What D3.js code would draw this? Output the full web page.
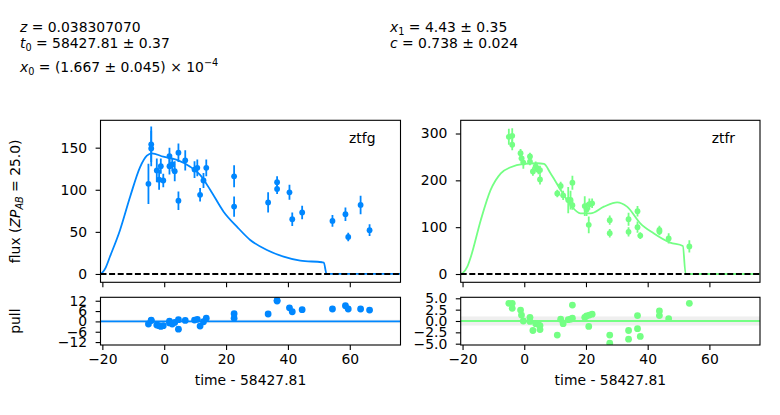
<!DOCTYPE html>
<html>
<head>
<meta charset="utf-8">
<script src="https://cdn.jsdelivr.net/npm/d3@7"></script>
<style>
  body { margin: 0; background: #fff; }
  text { font-family: "DejaVu Sans", sans-serif; }
</style>
</head>
<body>
<div id="chart"></div>
<script>
// ---- data ----
const tickTimes = [-20, 0, 20, 40, 60];

// ztfg
const gTime = [-5.1, -4.2, -4.2, -2.4, -1.65, -1.1, -0.3, 1.7, 1.7, 2.6, 3.4, 4.6, 4.6, 6.8, 9.8, 10.7, 11.6, 12.7, 13.6,
  22.6, 22.6, 33.6, 36.5, 36.5, 40.5, 41.4, 44.6, 54.4, 58.6, 59.5, 63.5, 66.4];
const gFlux = [107, 154, 149, 123, 112, 128, 111, 140, 128, 130, 122, 144, 87, 135, 124, 126, 94, 111, 126,
  116, 80, 85, 109, 101, 97, 65, 73, 63, 71, 44, 82, 52];
const gErr = [24, 21, 21, 14, 12, 9, 8, 10, 10, 8, 12, 11, 11, 12, 10, 10, 8, 9, 10,
  13, 12, 12, 7, 6, 9, 8, 8, 7, 8, 5, 11, 7];
const gPull = [-1.5, 0.8, 0.5, -2.1, -2.5, -2.9, -2.5, 0.2, -0.9, -1.5, -0.6, 1.0, -4.5, 0.6, 0.8, 1.2, -2.7, -0.2, 1.9,
  4.5, 1.9, 4.3, 11.8, 12.3, 7.9, 5.6, 6.8, 7.2, 9.1, 7.2, 7.2, 6.6];
const gModelTime = [-20.6, -20, -19, -17.5, -14.3, -11, -7.8, -5.6, -4, -0.3, 4.1, 8.4, 11.6, 14.9, 19.2, 23.5,
  27.8, 33.2, 38.6, 44, 51, 51.6, 52.5, 76.4];
const gModelFlux = [0, 1.5, 7, 21, 52, 92, 127, 140.5, 143.3, 139.3, 135.4, 127.4, 117.6, 99.8, 74, 56.2,
  40.4, 28.5, 20.6, 15.8, 13.9, 13.6, 0, 0];

// ztfr
const rTime = [-5.0, -3.9, -3.9, -1.2, -0.9, -0.3, 1.85, 1.85, 2.8, 3.7, 4.6, 5.1, 5.1, 10.7, 11.8, 12.6, 14.25, 15.0,
  15.6, 15.6, 19.6, 20.2, 20.9, 21.1, 22.0, 27.7, 27.7, 33.8, 33.8, 36.7, 36.7, 37.6, 43.8, 43.8, 46.8, 53.5];
const rFlux = [293, 295, 276, 258, 247, 238, 251, 240, 219, 230, 222, 222, 202, 172, 188, 168, 158, 158,
  195, 147, 145, 138, 105, 149, 151, 115, 87, 117, 90, 134, 100, 82, 94, 91, 76, 59];
const rErr = [17, 16, 12, 9, 9, 13, 8, 8, 9, 10, 9, 9, 11, 8, 9, 10, 28, 20,
  15, 10, 21, 14, 18, 12, 10, 10, 9, 14, 10, 11, 12, 7, 9, 8, 11, 13];
const rPull = [3.9, 3.9, 2.8, 2.4, 1.3, 0, 0.8, -0.1, -2.1, -0.6, -0.8, -1.0, -1.9, -3.1, 0.4, -0.6, 0.3, 0.4,
  3.5, 0.6, 0.8, 1.1, -1.2, 1.3, 1.5, -3.1, -4.9, -2.1, -4.0, 1.2, -1.7, -3.4, 2.2, 1.2, 0.5, 3.9];
const rModelTime = [-20.6, -20, -18.5, -17.3, -14.1, -10.9, -7.6, -4.4, -0.1, 4.2, 6.4, 8.5, 11.8, 15, 18.2, 21.5,
  25.8, 30.1, 33.3, 37.6, 41.9, 47.3, 51.4, 52.3, 76.4];
const rModelFlux = [0, 1.5, 15, 37, 115, 179.5, 215, 228, 235, 236.5, 235, 215, 179.5, 147.4, 129.6, 129.6,
  143.8, 153, 143.8, 108.3, 87, 67, 59.8, 0, 0];

const bands = [
  { name: "ztfg", color: "#0087ff", time: gTime, flux: gFlux, err: gErr, pull: gPull,
    mt: gModelTime, mf: gModelFlux, fluxDom: [-9.9, 182.5], fluxTicks: [0, 50, 100, 150],
    pullDom: [-13.7, 14.0], pullTicks: [-12, -6, 0, 6, 12], pullFmt: d3.format("d"), x0: 100.5, x1: 400.5 },
  { name: "ztfr", color: "#74ff84", time: rTime, flux: rFlux, err: rErr, pull: rPull,
    mt: rModelTime, mf: rModelFlux, fluxDom: [-17.7, 328.2], fluxTicks: [0, 100, 200, 300],
    pullDom: [-5.29, 5.22], pullTicks: [-5, -2.5, 0, 2.5, 5], pullFmt: d3.format(".1f"), x0: 460.7, x1: 760 }
];

const W = 780, H = 415;
const panelTop = { y0: 120.3, y1: 282.3 }, panelBot = { y0: 297.3, y1: 345 };
const fs = 13.9, tick = 4.9;

const svg = d3.select("#chart").append("svg")
  .attr("width", W).attr("height", H)
  .style("font-family", "DejaVu Sans, sans-serif");

function styleAxis(g) {
  g.select(".domain").remove();
  g.selectAll(".tick line").attr("stroke", "#000").attr("stroke-width", 1.1);
  g.selectAll(".tick text").attr("fill", "#000").attr("font-size", fs)
    .attr("font-family", "DejaVu Sans, sans-serif");
}

bands.forEach((b, i) => {
  const x = d3.scaleLinear().domain([-20.6, 76.4]).range([b.x0, b.x1]);
  const y = d3.scaleLinear().domain(b.fluxDom).range([panelTop.y1, panelTop.y0]);
  const yp = d3.scaleLinear().domain(b.pullDom).range([panelBot.y1, panelBot.y0]);

  const clipTop = "clipTop" + i, clipBot = "clipBot" + i;
  svg.append("clipPath").attr("id", clipTop).append("rect")
    .attr("x", b.x0).attr("y", panelTop.y0).attr("width", b.x1 - b.x0).attr("height", panelTop.y1 - panelTop.y0);
  svg.append("clipPath").attr("id", clipBot).append("rect")
    .attr("x", b.x0).attr("y", panelBot.y0).attr("width", b.x1 - b.x0).attr("height", panelBot.y1 - panelBot.y0);

  // ---- flux panel ----
  const pt = svg.append("g").attr("clip-path", `url(#${clipTop})`);
  pt.append("path")
    .datum(d3.zip(b.mt, b.mf))
    .attr("fill", "none").attr("stroke", b.color).attr("stroke-width", 1.8)
    .attr("d", d3.line().curve(d3.curveMonotoneX).x(d => x(d[0])).y(d => y(d[1])));

  pt.append("line")
    .attr("x1", b.x0).attr("x2", b.x1).attr("y1", y(0)).attr("y2", y(0))
    .attr("stroke", "#000").attr("stroke-width", 1.9).attr("stroke-dasharray", "6,2.6");

  const pts = d3.range(b.time.length);
  pt.append("g").selectAll("line").data(pts).join("line")
    .attr("x1", d => x(b.time[d])).attr("x2", d => x(b.time[d]))
    .attr("y1", d => y(b.flux[d] - b.err[d])).attr("y2", d => y(b.flux[d] + b.err[d]))
    .attr("stroke", b.color).attr("stroke-width", 1.8);
  pt.append("g").selectAll("circle").data(pts).join("circle")
    .attr("cx", d => x(b.time[d])).attr("cy", d => y(b.flux[d]))
    .attr("r", 2.9).attr("fill", b.color);

  svg.append("g").attr("transform", `translate(0,${panelTop.y1})`)
    .call(d3.axisBottom(x).tickValues(tickTimes).tickSize(tick).tickFormat(""))
    .call(styleAxis);
  svg.append("g").attr("transform", `translate(${b.x0},0)`)
    .call(d3.axisLeft(y).tickValues(b.fluxTicks).tickSize(tick).tickPadding(8.5).tickFormat(d3.format("d")))
    .call(styleAxis);

  svg.append("rect").attr("x", b.x0).attr("y", panelTop.y0)
    .attr("width", b.x1 - b.x0).attr("height", panelTop.y1 - panelTop.y0)
    .attr("fill", "none").attr("stroke", "#000").attr("stroke-width", 1.1);

  svg.append("text").attr("x", b.x1 - 25).attr("y", 143)
    .attr("text-anchor", "end").attr("font-size", fs).text(b.name);

  // ---- pull panel ----
  const pb = svg.append("g").attr("clip-path", `url(#${clipBot})`);
  pb.append("rect").attr("x", b.x0).attr("width", b.x1 - b.x0)
    .attr("y", yp(1)).attr("height", yp(-1) - yp(1)).attr("fill", "#efefef");
  pb.append("line")
    .attr("x1", b.x0).attr("x2", b.x1).attr("y1", yp(0)).attr("y2", yp(0))
    .attr("stroke", b.color).attr("stroke-width", 1.8);
  pb.append("g").selectAll("circle").data(pts).join("circle")
    .attr("cx", d => x(b.time[d])).attr("cy", d => yp(b.pull[d]))
    .attr("r", 3.4).attr("fill", b.color);

  svg.append("g").attr("transform", `translate(0,${panelBot.y1})`)
    .call(d3.axisBottom(x).tickValues(tickTimes).tickSize(tick).tickPadding(4.5).tickFormat(d3.format("d")))
    .call(styleAxis);
  svg.append("g").attr("transform", `translate(${b.x0},0)`)
    .call(d3.axisLeft(yp).tickValues(b.pullTicks).tickSize(tick).tickPadding(8.5).tickFormat(b.pullFmt))
    .call(styleAxis);

  svg.append("rect").attr("x", b.x0).attr("y", panelBot.y0)
    .attr("width", b.x1 - b.x0).attr("height", panelBot.y1 - panelBot.y0)
    .attr("fill", "none").attr("stroke", "#000").attr("stroke-width", 1.1);

  svg.append("text").attr("x", (b.x0 + b.x1) / 2).attr("y", 385)
    .attr("text-anchor", "middle").attr("font-size", fs).text("time - 58427.81");
});

// ---- y labels ----
const fl = svg.append("text").attr("font-size", fs).attr("text-anchor", "middle")
  .attr("transform", `translate(20,${(panelTop.y0 + panelTop.y1) / 2}) rotate(-90)`);
fl.append("tspan").text("flux (");
fl.append("tspan").attr("font-style", "italic").text("ZP");
fl.append("tspan").attr("font-style", "italic").attr("font-size", fs * 0.7).attr("dy", 3).text("AB");
fl.append("tspan").attr("dy", -3).text(" = 25.0)");

svg.append("text").attr("font-size", fs).attr("text-anchor", "middle")
  .attr("transform", `translate(20,${(panelBot.y0 + panelBot.y1) / 2}) rotate(-90)`).text("pull");

// ---- fit parameters ----
function param(xp, yb, parts) {
  const t = svg.append("text").attr("x", xp).attr("y", yb).attr("font-size", fs);
  parts.forEach(p => {
    const s = t.append("tspan").text(p.s);
    if (p.it) s.attr("font-style", "italic");
    if (p.sub) s.attr("font-size", fs * 0.7).attr("dy", 3);
    if (p.sup) s.attr("font-size", fs * 0.7).attr("dy", -6);
    if (p.dy) s.attr("dy", p.dy);
  });
}
param(20, 32, [{ s: "z", it: 1 }, { s: " = 0.038307070" }]);
param(20, 48, [{ s: "t", it: 1 }, { s: "0", sub: 1 }, { s: " = 58427.81 ± 0.37", dy: -3 }]);
param(20, 71.5, [{ s: "x", it: 1 }, { s: "0", sub: 1 }, { s: " = (1.667 ± 0.045) × 10", dy: -3 }, { s: "−4", sup: 1 }]);
param(390, 32, [{ s: "x", it: 1 }, { s: "1", sub: 1 }, { s: " = 4.43 ± 0.35", dy: -3 }]);
param(390, 48, [{ s: "c", it: 1 }, { s: " = 0.738 ± 0.024" }]);
</script>
</body>
</html>
